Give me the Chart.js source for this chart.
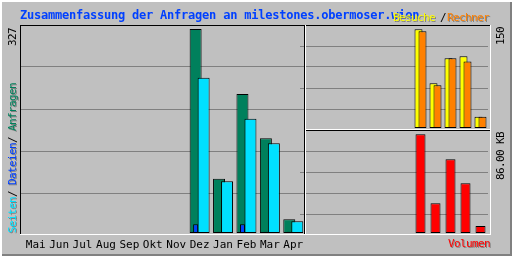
<!DOCTYPE html>
<html>
<head>
<meta charset="utf-8">
<script src="https://cdn.jsdelivr.net/npm/chart.js@4.4.1/dist/chart.umd.min.js"></script>
<style>
  body { margin: 0; background: #c0c0c0; }
  #box { position: relative; width: 512px; height: 256px; background: #c0c0c0; overflow: hidden; font-family: 'DejaVu Sans Mono', monospace; }
  canvas { position: absolute; z-index: 1; }
  .ln { position: absolute; z-index: 2; }
  .txt { position: absolute; z-index: 3; white-space: nowrap; font-size: 11px; line-height: 11px; letter-spacing: -0.62px; }
  .up { transform-origin: 0 0; transform: rotate(-90deg); }
  .sh { text-shadow: 1px 1px 0 #808080; }
  .shup { text-shadow: -1px 1px 0 #808080; }
</style>
</head>
<body>
<div id="box">
  <canvas id="main" width="284" height="231" style="left:21px;top:25px"></canvas>
  <canvas id="visits" width="190" height="105" style="left:300px;top:25px"></canvas>
  <canvas id="volume" width="190" height="105" style="left:300px;top:130px"></canvas>

  <!-- outer frame -->
  <div class="ln" style="left:0;top:0;width:512px;height:2px;background:#fff"></div>
  <div class="ln" style="left:0;top:0;width:2px;height:256px;background:#fff"></div>
  <div class="ln" style="left:2px;top:254px;width:510px;height:2px;background:#808080"></div>
  <div class="ln" style="left:510px;top:2px;width:2px;height:254px;background:#808080"></div>

  <!-- panel frames -->
  <div class="ln" style="left:20px;top:25px;width:471px;height:1px;background:#000"></div>
  <div class="ln" style="left:20px;top:25px;width:1px;height:210px;background:#000"></div>
  <div class="ln" style="left:304px;top:25px;width:1px;height:210px;background:#000"></div>
  <div class="ln" style="left:305px;top:25px;width:1px;height:210px;background:#fff"></div>
  <div class="ln" style="left:490px;top:25px;width:1px;height:210px;background:#fff"></div>
  <div class="ln" style="left:20px;top:234px;width:471px;height:1px;background:#fff"></div>
  <div class="ln" style="left:306px;top:129px;width:184px;height:1px;background:#fff"></div>
  <div class="ln" style="left:306px;top:130px;width:184px;height:1px;background:#000"></div>

  <!-- texts -->
  <div class="txt" style="left:20px;top:9px;font-size:12px;line-height:12px;font-weight:bold;letter-spacing:-0.22px;color:#0040ff">Zusammenfassung der Anfragen an milestones.obermoser.wien</div>
  <div class="txt sh" style="left:393px;top:12px;color:#ffff00">Besuche</div>
  <div class="txt" style="left:440px;top:12px;color:#000">/</div>
  <div class="txt sh" style="left:447px;top:12px;color:#ff8000">Rechner</div>
  <div class="txt sh" style="left:448px;top:238px;color:#ff0000">Volumen</div>

  <div class="txt up" style="left:7px;top:46px;color:#000">327</div>
  <div class="txt up" style="left:7px;top:233px;color:#000"><span class="shup" style="color:#00e0ff">Seiten</span>/ <span class="shup" style="color:#0040ff">Dateien</span>/ <span class="shup" style="color:#00805c">Anfragen</span></div>
  <div class="txt up" style="left:495px;top:45px;color:#000">150</div>
  <div class="txt up" style="left:495px;top:180px;color:#000">86.00 KB</div>
</div>

<script>
// Monate und Werte
const monate = ['Mai', 'Jun', 'Jul', 'Aug', 'Sep', 'Okt', 'Nov', 'Dez', 'Jan', 'Feb', 'Mar', 'Apr'];
const anfragen = [0, 0, 0, 0, 0, 0, 0, 327, 87, 223, 152, 22];
const seiten = [0, 0, 0, 0, 0, 0, 0, 249, 83, 183, 144, 19];
const dateien = [0, 0, 0, 0, 0, 0, 0, 14, 2, 14, 2, 2];
const besuche = [0, 0, 0, 0, 0, 0, 0, 150, 68, 106, 109, 17];
const rechner = [0, 0, 0, 0, 0, 0, 0, 147, 65, 106, 101, 17];
const volumenKB = [0, 0, 0, 0, 0, 0, 0, 86.0, 25.9, 64.2, 43.3, 6.1];

const GRID = '#808080';
const FONT = { family: 'DejaVu Sans Mono', size: 11 };

// 4 evenly spaced grid lines inside the panel
function gridTicks(scale) {
    const lo = scale.min, hi = scale.max;
    scale.ticks = [1, 2, 3, 4].map(j => ({ value: lo + (hi - lo) * j / 5 }));
}

function baseOptions(yMin, yMax, tick) {
    return {
        responsive: false,
        animation: false,
        events: [],
        plugins: { legend: { display: false }, tooltip: { enabled: false } },
        datasets: { bar: { borderColor: '#000', borderWidth: 1, borderSkipped: false } },
        scales: {
            y: {
                min: yMin,
                max: yMax,
                stacked: false,
                grid: { color: GRID, tickLength: tick },
                border: { display: false },
                ticks: { display: false },
                afterFit: s => { s.width = tick; },
                afterBuildTicks: gridTicks
            }
        }
    };
}

// Hauptgrafik: Anfragen / Dateien / Seiten
const mainOpts = baseOptions(-3.2, 333.4, 3);
mainOpts.scales.x = {
    grid: { display: false },
    border: { display: false },
    ticks: { color: '#000', font: FONT, padding: -4, maxRotation: 0, autoSkip: false },
    afterFit: s => { s.height = 21; }
};
new Chart(document.getElementById('main'), {
    type: 'bar',
    data: {
        labels: monate,
        datasets: [
            { label: 'Dateien', data: dateien, backgroundColor: '#0040ff', stack: 'a', barPercentage: 0.625, categoryPercentage: 0.683 },
            { label: 'Seiten', data: seiten, backgroundColor: '#00e0ff', stack: 'b', barPercentage: 1.5, categoryPercentage: 0.683 },
            { label: 'Anfragen', data: anfragen, backgroundColor: '#00805c', stack: 'a', barPercentage: 1.5, categoryPercentage: 0.683 }
        ]
    },
    options: mainOpts
});

// Besuche / Rechner
const visitOpts = baseOptions(-3.04, 156.5, 8);
visitOpts.layout = { padding: { right: 2 } };
visitOpts.scales.x = { display: false };
new Chart(document.getElementById('visits'), {
    type: 'bar',
    data: {
        labels: monate,
        datasets: [
            // empty placeholder so that Besuche sits left while Rechner is painted over it
            { data: [], stack: 'l' },
            { label: 'Rechner', data: rechner, backgroundColor: '#ff8000', stack: 'r', barPercentage: 2, categoryPercentage: 0.5333 },
            { label: 'Besuche', data: besuche, backgroundColor: '#ffff00', stack: 'l', barPercentage: 2, categoryPercentage: 0.5333 }
        ]
    },
    options: visitOpts
});

// Volumen
const volOpts = baseOptions(-1.74, 89.75, 8);
volOpts.layout = { padding: { right: 2 } };
volOpts.scales.x = { display: false };
new Chart(document.getElementById('volume'), {
    type: 'bar',
    data: {
        labels: monate,
        datasets: [
            { label: 'Volumen', data: volumenKB, backgroundColor: '#ff0000', barPercentage: 0.667, categoryPercentage: 1 }
        ]
    },
    options: volOpts
});
</script>
</body>
</html>
